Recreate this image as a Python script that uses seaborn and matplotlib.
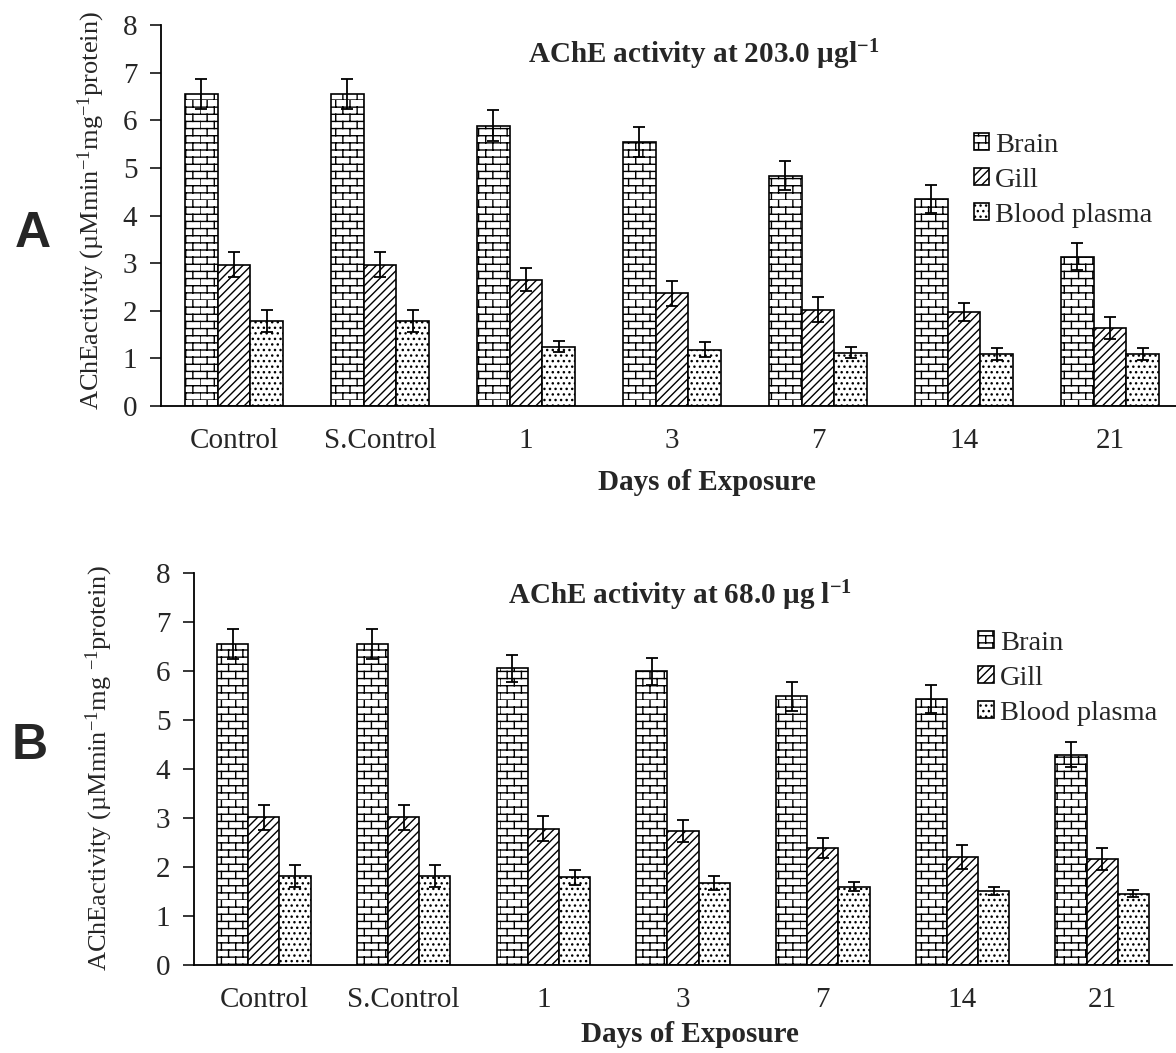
import warnings
import numpy as np
import pandas as pd
import seaborn as sns
import matplotlib.pyplot as plt
from matplotlib import hatch as mhatch
from matplotlib.path import Path

warnings.filterwarnings("ignore")

days = ["Control", "S.Control", "1", "3", "7", "14", "21"]
tissues = ["Brain", "Gill", "Blood plasma"]

# panel A - 203.0 ug/l
brain_a = [6.55, 6.55, 5.89, 5.54, 4.84, 4.35, 3.14]
gill_a = [2.97, 2.97, 2.65, 2.37, 2.02, 1.98, 1.63]
plasma_a = [1.79, 1.79, 1.25, 1.18, 1.12, 1.09, 1.09]
brain_a_err = [0.32, 0.32, 0.32, 0.32, 0.31, 0.29, 0.28]
gill_a_err = [0.26, 0.26, 0.24, 0.26, 0.26, 0.19, 0.23]
plasma_a_err = [0.23, 0.23, 0.12, 0.16, 0.12, 0.12, 0.12]

# panel B - 68.0 ug/l
brain_b = [6.55, 6.55, 6.05, 5.99, 5.48, 5.43, 4.29]
gill_b = [3.01, 3.01, 2.78, 2.73, 2.39, 2.20, 2.16]
plasma_b = [1.82, 1.82, 1.79, 1.67, 1.60, 1.51, 1.45]
brain_b_err = [0.31, 0.31, 0.28, 0.28, 0.29, 0.28, 0.26]
gill_b_err = [0.25, 0.25, 0.26, 0.22, 0.21, 0.25, 0.23]
plasma_b_err = [0.22, 0.22, 0.15, 0.15, 0.10, 0.09, 0.07]


# brick hatch ('b') - matplotlib has no built-in one
class BrickHatch(mhatch.HatchPatternBase):
    def __init__(self, hatch, density):
        self.rows = hatch.count('b') * 14
        self.cols = 7
        self.num_vertices = self.rows * 2 * (1 + self.cols)

    def set_vertices_and_codes(self, vertices, codes):
        v = []
        for i in range(self.rows):
            y0 = i / self.rows
            y1 = (i + 1) / self.rows
            v += [(0, y0), (1, y0)]
            off = (i % 2) * 0.5 / self.cols
            for k in range(self.cols):
                x = k / self.cols + off
                v += [(x, y0), (x, y1)]
        vertices[:] = np.array(v)
        codes[0::2] = Path.MOVETO
        codes[1::2] = Path.LINETO


mhatch._hatch_types.append(BrickHatch)

sns.set_style("white")
plt.rcParams['font.family'] = ['Liberation Serif', 'DejaVu Serif']
plt.rcParams['mathtext.fontset'] = 'custom'
plt.rcParams['mathtext.rm'] = 'Liberation Serif'
plt.rcParams['mathtext.default'] = 'regular'
plt.rcParams['hatch.linewidth'] = 1.0

hatches = ['b', '////', '...']


def panel(ax, vals, errs, title, title_xy, ylabel, ylabel_xy, xlabel_xy, leg_xy, fig):
    df = pd.DataFrame({
        'day': days * 3,
        'tissue': np.repeat(tissues, len(days)),
        'value': vals[0] + vals[1] + vals[2],
    })
    sns.barplot(data=df, x='day', y='value', hue='tissue', order=days,
                hue_order=tissues, palette={t: 'white' for t in tissues},
                width=0.67, errorbar=None, edgecolor='black', linewidth=1.2,
                legend=False, ax=ax)
    for cont, h, v, e in zip(ax.containers, hatches, vals, errs):
        for bar in cont:
            bar.set_hatch(h)
        xs = [b.get_x() + b.get_width() / 2 for b in cont]
        ax.errorbar(xs, v, yerr=e, fmt='none', ecolor='black', elinewidth=1.3,
                    capsize=4.5, capthick=1.3, zorder=5)

    ax.set_xlim(-0.5, 6.5)
    ax.set_ylim(0, 8)
    ax.set_yticks(range(9))
    ax.set_xticks(range(len(days)))
    ax.set_xticks(np.arange(-0.5, 7, 1), minor=True)
    ax.tick_params(axis='x', which='major', length=0, pad=16, labelsize=21)
    ax.tick_params(axis='x', which='minor', length=7, width=1.3, direction='out')
    ax.tick_params(axis='y', length=8, width=1.3, direction='out', pad=9,
                   labelsize=21, left=True)
    for s in ['top', 'right']:
        ax.spines[s].set_visible(False)
    for s in ['left', 'bottom']:
        ax.spines[s].set_linewidth(1.3)
        ax.spines[s].set_color('black')

    ax.set_xlabel('Days of Exposure', fontsize=21, fontweight='bold')
    ax.xaxis.set_label_coords(*xlabel_xy)
    ax.set_ylabel(ylabel, fontsize=19)
    ax.yaxis.set_label_coords(*ylabel_xy)
    ax.text(title_xy[0], title_xy[1], title, transform=ax.transAxes,
            ha='center', va='center', fontsize=21, fontweight='bold')

    ax.legend(ax.containers, tissues, loc='center left', frameon=False,
              bbox_to_anchor=leg_xy, bbox_transform=fig.transFigure,
              fontsize=20.5, handlelength=0.55, handleheight=0.55,
              handletextpad=0.2, labelspacing=0.35, borderpad=0,
              borderaxespad=0)


fig = plt.figure(figsize=(11.76, 10.53), dpi=100)
ax_a = fig.add_axes([0.1369, 0.6144, 0.8690, 0.3618])
ax_b = fig.add_axes([0.1650, 0.0836, 0.8316, 0.3723])

panel(ax_a, [brain_a, gill_a, plasma_a], [brain_a_err, gill_a_err, plasma_a_err],
      'AChE activity at 203.0 µgl$^{-1}$', (0.531, 0.921),
      'AChEactivity (µMmin$^{-1}$mg$^{-1}$protein)', (-0.053, 0.512),
      (0.534, -0.165), (0.828, 0.829), fig)
panel(ax_b, [brain_b, gill_b, plasma_b], [brain_b_err, gill_b_err, plasma_b_err],
      'AChE activity at 68.0 µg l$^{-1}$', (0.497, 0.941),
      'AChEactivity (µMmin$^{-1}$mg $^{-1}$protein)', (-0.081, 0.503),
      (0.507, -0.142), (0.832, 0.356), fig)

fig.text(0.028, 0.778, 'A', fontsize=36, fontweight='bold',
         family='Liberation Sans', ha='center', va='center')
fig.text(0.025, 0.292, 'B', fontsize=36, fontweight='bold',
         family='Liberation Sans', ha='center', va='center')

fig.savefig('out.png', dpi=100)
